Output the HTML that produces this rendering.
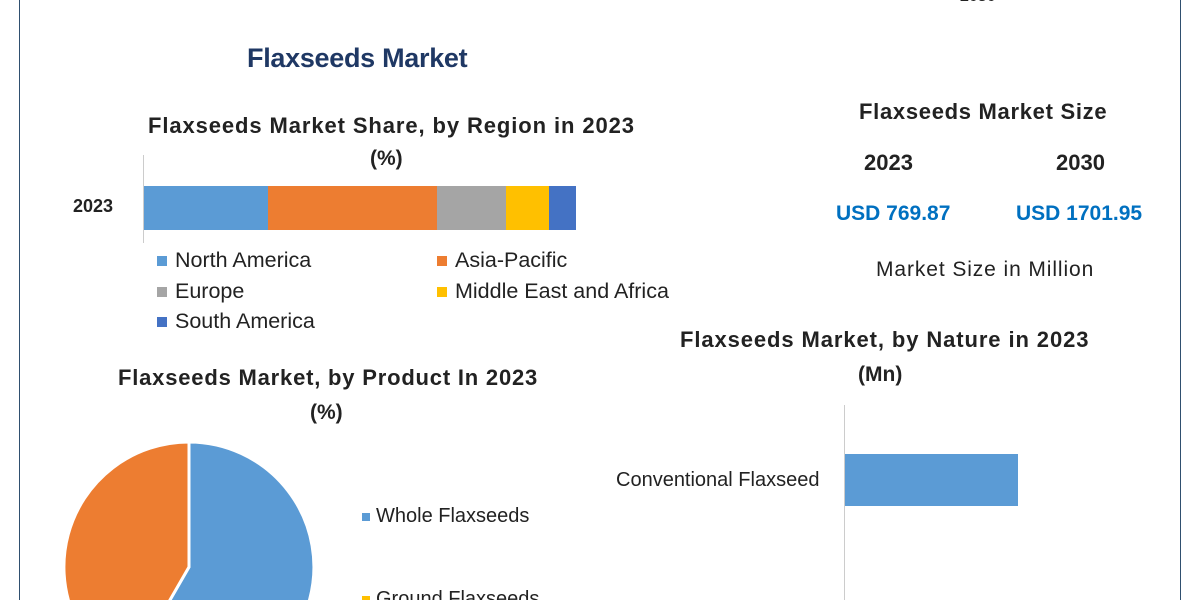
<!DOCTYPE html>
<html><head><meta charset="utf-8"><style>
html,body{margin:0;width:1200px;height:600px;overflow:hidden}
body{background:#fff;position:relative;font-family:"Liberation Sans",sans-serif;color:#222}
.a{position:absolute;white-space:nowrap}
.b{font-weight:bold}
.sq{display:inline-block;width:10px;height:10px;margin-right:6px;vertical-align:1px}
</style></head><body>
<div class="a" style="left:19px;top:0;width:1162px;height:600px;border-left:1.5px solid #2f4f6f;border-right:1.5px solid #2f4f6f;box-sizing:border-box"></div>
<div class="a b" style="left:960px;top:-12px;font-size:16px">2030</div>
<div class="a b" style="left:247px;top:43px;font-size:27px;color:#1f3864;letter-spacing:-0.3px">Flaxseeds Market</div>

<div class="a b" style="left:148px;top:113px;font-size:22px;letter-spacing:0.9px">Flaxseeds Market Share, by Region in 2023</div>
<div class="a b" style="left:370px;top:147px;font-size:21px">(%)</div>
<div class="a" style="left:143px;top:155px;width:1px;height:88px;background:#ccc"></div>
<div class="a b" style="left:73px;top:196px;font-size:18px">2023</div>
<div class="a" style="left:144px;top:186px;width:124px;height:44px;background:#5b9bd5"></div>
<div class="a" style="left:268px;top:186px;width:169px;height:44px;background:#ed7d31"></div>
<div class="a" style="left:437px;top:186px;width:69px;height:44px;background:#a5a5a5"></div>
<div class="a" style="left:506px;top:186px;width:43px;height:44px;background:#ffc000"></div>
<div class="a" style="left:549px;top:186px;width:27px;height:44px;background:#4472c4"></div>
<div class="a" style="left:157px;top:248px;font-size:21.5px"><span class="sq" style="background:#5b9bd5;margin-right:8px"></span>North America</div>
<div class="a" style="left:437px;top:248px;font-size:21.5px"><span class="sq" style="background:#ed7d31;margin-right:8px"></span>Asia-Pacific</div>
<div class="a" style="left:157px;top:279px;font-size:21.5px"><span class="sq" style="background:#a5a5a5;margin-right:8px"></span>Europe</div>
<div class="a" style="left:437px;top:279px;font-size:21.5px"><span class="sq" style="background:#ffc000;margin-right:8px"></span>Middle East and Africa</div>
<div class="a" style="left:157px;top:309px;font-size:21.5px"><span class="sq" style="background:#4472c4;margin-right:8px"></span>South America</div>

<div class="a b" style="left:859px;top:99px;font-size:22px;letter-spacing:0.7px">Flaxseeds Market Size</div>
<div class="a b" style="left:864px;top:150px;font-size:22px">2023</div>
<div class="a b" style="left:1056px;top:150px;font-size:22px">2030</div>
<div class="a b" style="left:836px;top:202px;font-size:21px;color:#0070c0">USD 769.87</div>
<div class="a b" style="left:1016px;top:202px;font-size:21px;color:#0070c0">USD 1701.95</div>
<div class="a" style="left:876px;top:258px;font-size:21px;letter-spacing:0.9px">Market Size in Million</div>

<div class="a b" style="left:680px;top:327px;font-size:22px;letter-spacing:0.9px">Flaxseeds Market, by Nature in 2023</div>
<div class="a b" style="left:858px;top:363px;font-size:21px">(Mn)</div>
<div class="a" style="left:844px;top:405px;width:1px;height:195px;background:#ccc"></div>
<div class="a" style="left:845px;top:454px;width:173px;height:52px;background:#5b9bd5"></div>
<div class="a" style="left:616px;top:469px;font-size:20px">Conventional Flaxseed</div>

<div class="a b" style="left:118px;top:365px;font-size:22px;letter-spacing:0.8px">Flaxseeds Market, by Product In 2023</div>
<div class="a b" style="left:310px;top:401px;font-size:21px">(%)</div>
<svg class="a" style="left:0;top:0" width="1200" height="600">
<path d="M189,567 L189,442 A125,125 0 1 1 126.5,675.3 Z" fill="#5b9bd5" stroke="#fff" stroke-width="3"/>
<path d="M189,567 L126.5,675.3 A125,125 0 0 1 189,442 Z" fill="#ed7d31" stroke="#fff" stroke-width="3"/>
</svg>
<div class="a" style="left:362px;top:505px;font-size:20px"><span class="sq" style="background:#5b9bd5;width:8px;height:8px"></span>Whole Flaxseeds</div>
<div class="a" style="left:362px;top:588px;font-size:20px"><span class="sq" style="background:#ffc000;width:8px;height:8px"></span>Ground Flaxseeds</div>
</body></html>
